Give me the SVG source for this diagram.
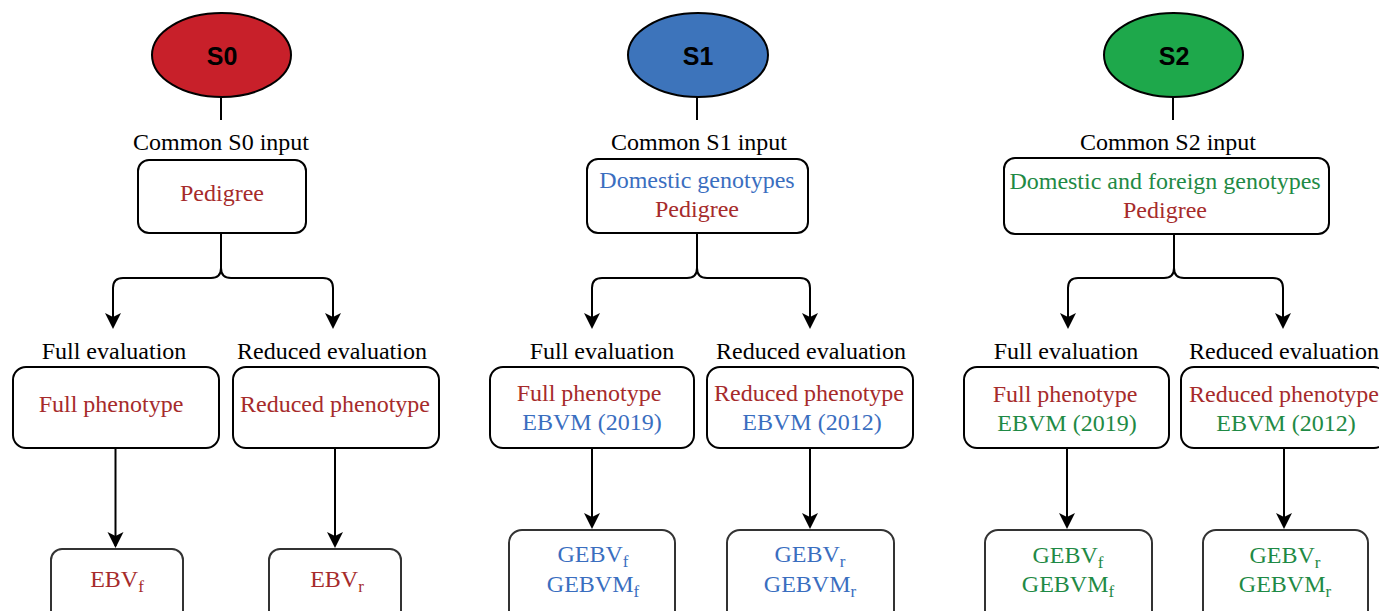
<svg xmlns="http://www.w3.org/2000/svg" width="1379" height="611" viewBox="0 0 1379 611">
<style>
.t{font-family:"Liberation Serif","Times New Roman",serif;font-size:24px;text-anchor:middle}
.blk{fill:#000}
.red{fill:#A62B2B}
.blue{fill:#3A6EBF}
.green{fill:#1F8A45}
.sub{font-size:17px}
.hd{font-family:"Liberation Sans",Arial,sans-serif;font-weight:bold;font-size:25px;text-anchor:middle;fill:#000}
.box{fill:#fff;stroke:#000;stroke-width:2}
.box2{fill:#fff;stroke:#333;stroke-width:2}
.ell{stroke:#000;stroke-width:2}
.ln{fill:none;stroke:#000;stroke-width:2}
</style>
<defs>
<marker id="arr" markerUnits="userSpaceOnUse" markerWidth="20" markerHeight="18" viewBox="-16 -9 20 18" refX="0" refY="0" orient="auto">
<path d="M2,0 L-14,-8 L-10,0 L-14,8 Z" fill="#000"/>
</marker>
</defs>
<rect width="1379" height="611" fill="#fff"/>

<g id="connectors">
<path class="ln" d="M221,97 V120"/>
<path class="ln" d="M221,233 V268 Q221,278 211,278 H123 Q113,278 113,288 V327" marker-end="url(#arr)"/>
<path class="ln" d="M221,268 Q221,278 231,278 H323 Q333,278 333,288 V327" marker-end="url(#arr)"/>
<path class="ln" d="M115.5,448 V546" marker-end="url(#arr)"/>
<path class="ln" d="M335,448 V546" marker-end="url(#arr)"/>

<path class="ln" d="M697,97 V120"/>
<path class="ln" d="M697,233 V268 Q697,278 687,278 H602 Q592,278 592,288 V327" marker-end="url(#arr)"/>
<path class="ln" d="M697,268 Q697,278 707,278 H800 Q810,278 810,288 V327" marker-end="url(#arr)"/>
<path class="ln" d="M592,448 V527" marker-end="url(#arr)"/>
<path class="ln" d="M810,448 V527" marker-end="url(#arr)"/>

<path class="ln" d="M1173,97 V120"/>
<path class="ln" d="M1174,234 V268 Q1174,278 1164,278 H1078 Q1068,278 1068,288 V327" marker-end="url(#arr)"/>
<path class="ln" d="M1174,268 Q1174,278 1184,278 H1273 Q1283,278 1283,288 V327" marker-end="url(#arr)"/>
<path class="ln" d="M1067,448 V527" marker-end="url(#arr)"/>
<path class="ln" d="M1284,448 V527" marker-end="url(#arr)"/>
</g>

<!-- S0 column -->
<g id="s0">
<ellipse class="ell" cx="221.5" cy="55" rx="69.5" ry="42" fill="#C8202A"/>
<text class="hd" x="222" y="65">S0</text>
</g>
<g id="s0-input">
<text class="t blk" x="221" y="150">Common S0 input</text>
<rect class="box" x="138" y="160" width="168" height="73" rx="11"/>
<text class="t red" x="222" y="201">Pedigree</text>
</g>
<g id="s0-full">
<text class="t blk" x="114" y="359">Full evaluation</text>
<rect class="box" x="13" y="367" width="206" height="81" rx="13"/>
<text class="t red" x="111" y="412">Full phenotype</text>
</g>
<g id="s0-reduced">
<text class="t blk" x="332" y="359">Reduced evaluation</text>
<rect class="box" x="233" y="367" width="206" height="81" rx="13"/>
<text class="t red" x="335" y="412">Reduced phenotype</text>
</g>
<g id="s0-ebvf">
<rect class="box2" x="51" y="549" width="132" height="76" rx="11"/>
<text class="t red" x="117" y="587">EBV<tspan class="sub" dy="5">f</tspan></text>
</g>
<g id="s0-ebvr">
<rect class="box2" x="269" y="549" width="132" height="76" rx="11"/>
<text class="t red" x="337" y="587">EBV<tspan class="sub" dy="5">r</tspan></text>
</g>

<!-- S1 column -->
<g id="s1">
<ellipse class="ell" cx="698" cy="55" rx="70" ry="42" fill="#3D74BB"/>
<text class="hd" x="698" y="65">S1</text>
</g>
<g id="s1-input">
<text class="t blk" x="699" y="150">Common S1 input</text>
<rect class="box" x="587" y="159" width="221" height="74" rx="11"/>
<text class="t blue" x="697" y="188">Domestic genotypes</text>
<text class="t red" x="697" y="217">Pedigree</text>
</g>
<g id="s1-full">
<text class="t blk" x="602" y="359">Full evaluation</text>
<rect class="box" x="490" y="367" width="204" height="81" rx="13"/>
<text class="t red" x="589" y="401">Full phenotype</text>
<text class="t blue" x="592" y="430">EBVM (2019)</text>
</g>
<g id="s1-reduced">
<text class="t blk" x="811" y="359">Reduced evaluation</text>
<rect class="box" x="707" y="367" width="206" height="81" rx="13"/>
<text class="t red" x="809" y="401">Reduced phenotype</text>
<text class="t blue" x="812" y="430">EBVM (2012)</text>
</g>
<g id="s1-gebvf">
<rect class="box2" x="509" y="530" width="166" height="95" rx="13"/>
<text class="t blue" x="593" y="562">GEBV<tspan class="sub" dy="5">f</tspan></text>
<text class="t blue" x="593" y="592">GEBVM<tspan class="sub" dy="5">f</tspan></text>
</g>
<g id="s1-gebvr">
<rect class="box2" x="727" y="530" width="167" height="95" rx="13"/>
<text class="t blue" x="810" y="562">GEBV<tspan class="sub" dy="5">r</tspan></text>
<text class="t blue" x="810" y="592">GEBVM<tspan class="sub" dy="5">r</tspan></text>
</g>

<!-- S2 column -->
<g id="s2">
<ellipse class="ell" cx="1173.5" cy="55" rx="69.5" ry="42" fill="#1EA84B"/>
<text class="hd" x="1174" y="65">S2</text>
</g>
<g id="s2-input">
<text class="t blk" x="1168" y="150">Common S2 input</text>
<rect class="box" x="1004" y="158" width="325" height="76" rx="11"/>
<text class="t green" x="1165" y="189">Domestic and foreign genotypes</text>
<text class="t red" x="1165" y="218">Pedigree</text>
</g>
<g id="s2-full">
<text class="t blk" x="1066" y="359">Full evaluation</text>
<rect class="box" x="964" y="367" width="205" height="81" rx="13"/>
<text class="t red" x="1065" y="402">Full phenotype</text>
<text class="t green" x="1067" y="431">EBVM (2019)</text>
</g>
<g id="s2-reduced">
<text class="t blk" x="1284" y="359">Reduced evaluation</text>
<rect class="box" x="1181" y="367" width="206" height="81" rx="13"/>
<text class="t red" x="1284" y="402">Reduced phenotype</text>
<text class="t green" x="1286" y="431">EBVM (2012)</text>
</g>
<g id="s2-gebvf">
<rect class="box2" x="985" y="530" width="167" height="95" rx="13"/>
<text class="t green" x="1068" y="563">GEBV<tspan class="sub" dy="5">f</tspan></text>
<text class="t green" x="1068" y="592">GEBVM<tspan class="sub" dy="5">f</tspan></text>
</g>
<g id="s2-gebvr">
<rect class="box2" x="1203" y="530" width="165" height="95" rx="13"/>
<text class="t green" x="1285" y="563">GEBV<tspan class="sub" dy="5">r</tspan></text>
<text class="t green" x="1285" y="592">GEBVM<tspan class="sub" dy="5">r</tspan></text>
</g>
</svg>
